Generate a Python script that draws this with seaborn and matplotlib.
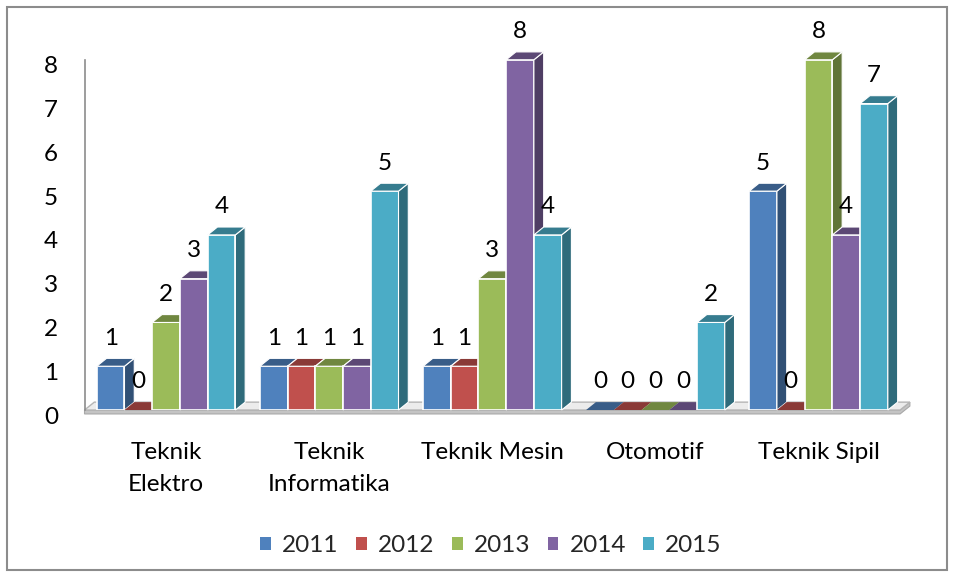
import matplotlib
matplotlib.use("Agg")
import matplotlib.pyplot as plt
import matplotlib.colors as mcolors
import matplotlib.transforms as mtransforms
from matplotlib.patches import Polygon, Rectangle
import numpy as np
import pandas as pd
import seaborn as sns

# data
categories = ["Teknik\nElektro", "Teknik\nInformatika", "Teknik Mesin", "Otomotif", "Teknik Sipil"]
years = ["2011", "2012", "2013", "2014", "2015"]
v2011 = [1, 1, 1, 0, 5]
v2012 = [0, 1, 1, 0, 0]
v2013 = [2, 1, 3, 0, 8]
v2014 = [3, 1, 8, 0, 4]
v2015 = [4, 5, 4, 2, 7]
colors = ["#4F81BD", "#C0504D", "#9BBB59", "#8064A2", "#4BACC6"]

FS = 17.5


def main():
    rows = []
    for year, vals in zip(years, [v2011, v2012, v2013, v2014, v2015]):
        for cat, v in zip(categories, vals):
            rows.append({"jurusan": cat, "tahun": year, "jumlah": v})
    df = pd.DataFrame(rows)

    sns.set_theme(style="white")
    plt.rcParams["font.family"] = ["Lato", "DejaVu Sans"]

    fig = plt.figure(figsize=(9.55, 5.77), dpi=100)
    ax = fig.add_axes([0.0885, 0.2894, 0.854, 0.607])
    sns.barplot(data=df, x="jurusan", y="jumlah", hue="tahun", palette=colors,
                saturation=1, width=0.85, edgecolor="white", linewidth=1.2,
                ax=ax, legend=False)

    ax.set_xlim(-0.5, 4.5)
    ax.set_ylim(0, 8)

    # fake 3d depth offsets (data units)
    dx, dy = 0.06, 0.18

    bars = sorted(list(ax.patches), key=lambda p: p.get_x())
    for k, p in enumerate(bars):
        x, w, h = p.get_x(), p.get_width(), p.get_height()
        c = np.array(mcolors.to_rgb(p.get_facecolor()))
        z = 3 + k * 0.01
        p.set_zorder(z)
        ec = "white" if h > 0 else "none"
        if h == 0:
            p.set_linewidth(0)
        side = Polygon([(x + w, 0), (x + w + dx, dy), (x + w + dx, h + dy), (x + w, h)],
                       closed=True, fc=c * 0.62, ec=ec, lw=0.8, zorder=z + 0.004, clip_on=False)
        top = Polygon([(x, h), (x + dx, h + dy), (x + w + dx, h + dy), (x + w, h)],
                      closed=True, fc=c * 0.72, ec=ec, lw=0.8, zorder=z + 0.005, clip_on=False)
        ax.add_patch(side)
        ax.add_patch(top)
        ax.text(x + w / 2, h + 0.64, str(int(h)), ha="center", va="center",
                fontsize=FS, color="black", zorder=10)

    # floor
    floor_top = Polygon([(-0.5, 0), (4.5, 0), (4.5 + dx, dy), (-0.5 + dx, dy)], closed=True,
                        fc="#ececec", ec="#b5b5b5", lw=1.0, zorder=1, clip_on=False)
    floor_front = Polygon([(-0.5, -0.09), (4.5, -0.09), (4.5 + dx, dy - 0.09), (4.5 + dx, dy),
                           (4.5, 0), (-0.5, 0)], closed=True,
                          fc="#c4c4c4", ec="#a8a8a8", lw=0.8, zorder=0.9, clip_on=False)
    ax.add_patch(floor_front)
    ax.add_patch(floor_top)

    for s in ["top", "right", "bottom"]:
        ax.spines[s].set_visible(False)
    ax.spines["left"].set_color("#8c8c8c")
    ax.spines["left"].set_linewidth(1.2)

    ax.set_yticks(range(0, 9))
    ax.tick_params(axis="y", length=0, pad=19, labelsize=FS, labelcolor="black")
    ax.tick_params(axis="x", length=0, pad=23, labelsize=FS, labelcolor="black")
    shift = mtransforms.ScaledTranslation(0, -5 / 100, fig.dpi_scale_trans)
    for lab in ax.get_yticklabels():
        lab.set_transform(lab.get_transform() + shift)
    for lab in ax.get_xticklabels():
        lab.set_linespacing(1.66)
    ax.set_xlabel("")
    ax.set_ylabel("")

    handles = [Rectangle((0, 0), 1, 1, fc=c, ec="none") for c in colors]
    fig.legend(handles, years, loc="center", bbox_to_anchor=(0.514, 0.055), ncol=5,
               frameon=False, fontsize=FS, handlelength=0.45, handleheight=0.45,
               handletextpad=0.45, columnspacing=0.72)

    fig.patches.append(Rectangle((7 / 955, 7 / 577), 940 / 955, 563 / 577,
                                 transform=fig.transFigure, fill=False,
                                 ec="#8c8c8c", lw=1.5))

    fig.savefig("out.png", dpi=100)


if __name__ == "__main__":
    main()
